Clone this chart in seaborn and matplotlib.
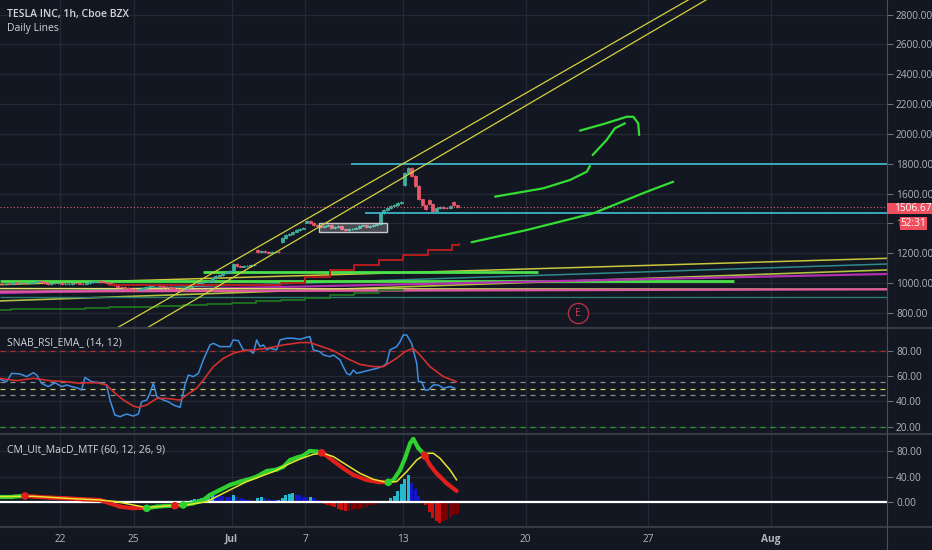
import numpy as np
import pandas as pd
import matplotlib
matplotlib.use('Agg')
import matplotlib.pyplot as plt
import seaborn as sns
from matplotlib.collections import LineCollection
from matplotlib.patches import Rectangle
from matplotlib.lines import Line2D

# ---------------- data ----------------
title_main = 'TESLA INC, 1h, Cboe BZX'
title_sub = 'Daily Lines'
title_rsi = 'SNAB_RSI_EMA_ (14, 12)'
title_macd = 'CM_Ult_MacD_MTF (60, 12, 26, 9)'

# x axis = trading-day index (0 = Jun 22)
date_labels = ['22', '25', 'Jul', '7', '13', '20', '27', 'Aug']
date_label_day = [0, 3, 7, 10, 14, 19, 24, 29]

price_ticks = [800, 1000, 1200, 1400, 1600, 1800, 2000, 2200, 2400, 2600, 2800]
hidden_tick = 1400          # its label is covered by the countdown box
rsi_ticks = [20, 40, 60, 80]
macd_ticks = [0, 40, 80]

candle_days = list(range(-3, 17))
day_opens = [995, 991, 1003, 1000, 994, 1001, 960, 985, 959, 1009,
             1083, 1221, 1276, 1405, 1389, 1365, 1396, 1659, 1556, 1543]
day_closes = [
    [1000, 998, 995, 993, 990, 992, 991],
    [1003, 1000, 1002, 998, 1000, 1002, 1003],
    [1010, 1005, 998, 995, 999, 1000, 1000],
    [990, 993, 995, 998, 997, 996, 994],
    [998, 1005, 1010, 1012, 1005, 1003, 1001],
    [995, 985, 975, 970, 965, 962, 960],
    [955, 960, 968, 975, 980, 983, 985],
    [980, 975, 970, 965, 962, 960, 959],
    [965, 975, 985, 995, 1000, 1005, 1009],
    [1015, 1030, 1045, 1055, 1065, 1072, 1079],
    [1125, 1115, 1110, 1112, 1115, 1118, 1119],
    [1210, 1215, 1205, 1200, 1205, 1210, 1208],
    [1300, 1320, 1330, 1345, 1355, 1365, 1371],
    [1415, 1400, 1390, 1380, 1375, 1385, 1389],
    [1370, 1375, 1380, 1360, 1355, 1362, 1365],
    [1370, 1385, 1390, 1375, 1380, 1390, 1394],
    [1470, 1490, 1505, 1515, 1525, 1535, 1544],
    [1740, 1770, 1720, 1650, 1560, 1520, 1497],
    [1530, 1480, 1500, 1510, 1505, 1500, 1516],
    [1520, 1506.67],
]
last_price = 1506.67
countdown = '52:31'

# daily lines (start day, start price, end day, end price)
dl_x0 = [-2.45, -2.45, -2.45, 5.84, -2.45, -2.45, -2.45, -2.45, -2.45]
dl_y0 = [989, 933, 1015, 1071, 879, 932, 962, 942, 904]
dl_x1 = [33.76, 33.76, 27.51, 19.51, 33.76, 33.76, 33.76, 33.76, 33.76]
dl_y1 = [1165, 1127, 1015, 1071, 1087, 1060, 957, 957, 904]

green_step_days = [-3, -2, -1, 0, 1, 2, 3, 4, 5, 6, 7, 8, 9, 10, 11, 12, 13, 14]
green_step_vals = [820, 822, 825, 828, 832, 836, 840, 846, 852, 858, 866, 876, 888, 902, 918, 935, 950, 950]

red_step_days = [2, 9, 10, 11, 12, 13, 14, 15, 16, 16.3]
red_step_vals = [985, 998, 1040, 1088, 1122, 1156, 1189, 1222, 1254, 1262]

channel_upper = [(2.0, 667), (26.0, 2933)]
channel_lower = [(3.0, 645), (27.0, 2960)]

cyan_levels = [1795, 1467]
cyan_start = [11.88, 12.45]

box_days = (10.57, 13.35)
box_prices = (1342, 1400)

earnings_day, earnings_price = 21.14, 798

green_strokes = [
    [(16.80, 1273), (19.05, 1355), (21.77, 1467), (23.95, 1612), (25.03, 1679)],
    [(17.76, 1579), (19.73, 1635), (20.82, 1691), (21.50, 1746), (21.63, 1785)],
    [(21.74, 1858), (22.31, 1959), (22.65, 2038), (23.06, 2071)],
    [(21.22, 2022), (22.18, 2066), (23.13, 2115), (23.40, 2115), (23.60, 2071), (23.64, 1993)],
]

rsi_points = [(-2.45,57.4),(-2.18,55.5),(-1.97,62.1),(-1.63,61.6),(-1.36,59.5),(-1.09,62.6),(-0.95,60.8),
    (-0.75,54.2),(-0.48,51.6),(-0.20,54.7),(0.07,51.6),(0.27,52.9),(0.48,51.6),(0.75,50.3),(0.88,48.9),
    (1.02,58.9),(1.29,55.5),(1.63,54.7),(1.90,52.9),(2.04,41.0),(2.24,29.2),(2.45,27.9),(2.72,30.0),
    (2.99,28.4),(3.20,30.0),(3.33,39.7),(3.54,41.0),(3.67,46.3),(3.81,54.2),(3.95,43.7),(4.22,41.0),
    (4.42,39.7),(4.63,37.1),(4.90,35.2),(5.10,52.9),(5.24,60.8),(5.44,59.5),(5.65,62.1),(5.85,72.7),
    (6.12,84.5),(6.26,85.8),(6.53,83.2),(6.94,83.2),(7.07,88.5),(7.28,87.9),(7.48,80.6),(7.76,80.0),
    (7.89,77.9),(8.03,88.5),(8.16,83.2),(8.30,84.5),(8.44,80.6),(8.57,81.9),(8.84,80.6),(8.98,88.5),
    (9.25,89.8),(9.52,89.8),(9.80,89.0),(10.07,90.6),(10.20,91.1),(10.34,80.6),(10.61,79.2),(10.75,76.6),
    (11.02,75.3),(11.16,76.6),(11.43,72.7),(11.56,67.4),(11.70,62.1),(11.84,60.8),(11.97,64.7),(12.11,62.1),
    (12.38,63.4),(12.65,64.7),(12.93,66.0),(13.20,67.9),(13.33,70.0),(13.47,80.6),(13.74,83.2),(13.88,87.1),
    (14.01,92.4),(14.15,92.4),(14.35,85.8),(14.56,70.0),(14.63,55.5),(14.76,55.5),(14.90,48.9),(15.03,48.9),
    (15.24,52.9),(15.44,52.9),(15.65,50.3),(15.92,51.6),(16.12,50.3)]
ema_points = [(-2.45,58.2),(-1.77,56.3),(-1.09,58.2),(-0.41,56.3),(0.27,55.5),(0.82,54.2),(1.09,54.7),
    (1.50,54.7),(1.90,52.9),(2.18,47.6),(2.59,41.0),(2.99,36.3),(3.20,35.2),(3.54,37.1),(3.95,42.3),
    (4.35,42.3),(4.90,41.0),(5.17,45.0),(5.58,50.3),(5.85,56.8),(6.26,67.4),(6.67,74.0),(7.07,77.9),
    (7.48,80.0),(7.89,80.6),(8.44,81.9),(9.12,84.5),(9.80,86.4),(10.20,86.4),(10.61,83.7),(11.16,80.0),
    (11.70,74.0),(12.24,69.2),(12.79,67.4),(13.20,67.4),(13.74,74.0),(14.08,79.2),(14.42,81.9),(14.69,76.6),
    (15.10,67.4),(15.65,59.5),(16.19,55.5)]
rsi_levels = [80, 55, 50, 45, 20]

macd_points = [(-2.45,8.9),(-1.90,8.9),(-1.43,9.9),(-1.09,8.9),(-0.41,7.3),(0.27,6.2),(0.95,4.7),(1.63,3.6),
    (2.04,-1.6),(2.45,-6.8),(2.99,-9.4),(3.54,-9.4),(3.95,-6.8),(4.35,-5.7),(4.76,-5.2),(5.03,-4.2),
    (5.44,-1.6),(5.85,3.6),(6.12,11.5),(6.53,19.3),(6.94,27.1),(7.35,32.3),(7.75,36.5),(8.03,40.1),
    (8.44,48.9),(8.84,51.0),(9.12,55.7),(9.39,66.1),(9.66,69.8),(9.93,72.9),(10.20,80.2),(10.48,79.2),
    (10.75,76.6),(11.16,64.6),(11.56,53.1),(11.97,42.7),(12.52,34.9),(13.06,31.2),(13.40,31.2),(13.61,34.9),
    (13.88,50.5),(14.08,68.7),(14.29,92.2),(14.42,99.0),(14.63,84.4),(14.83,76.6),(15.10,58.3),(15.37,45.3),
    (15.78,29.7),(16.19,17.7)]
signal_points = [(-2.45,8.9),(-1.09,9.4),(0.27,6.2),(1.63,3.6),(2.31,1.0),(2.99,-4.2),(3.54,-8.3),(4.35,-5.7),
    (5.17,-4.2),(5.99,1.0),(6.53,11.5),(7.07,21.9),(7.62,32.3),(8.16,40.1),(8.71,47.9),(9.25,58.3),
    (9.80,67.7),(10.34,75.0),(10.75,76.6),(11.16,71.3),(11.70,58.3),(12.24,45.3),(12.79,35.9),(13.33,31.2),
    (13.74,32.3),(14.15,47.9),(14.56,66.1),(14.97,76.6),(15.24,76.6),(15.51,68.7),(15.92,50.5),(16.19,34.9)]
cross_days = [-1.43, 3.54, 4.69, 5.03, 10.68, 13.40, 14.90]
cross_up = [False, True, False, True, False, True, False]

hist_days = list(range(3, 17))
hist_vals = [
    [-1, -1.5, -1, -0.5, 0.5, 1, 1],
    [1.5, 1, 0.5, 0.2, -0.3, -0.5, 0.5],
    [1.5, 2.5, 3.5, 4.5, 5.5, 6.5, 8],
    [11, 13, 12, 11, 10, 9, 8],
    [12, 9, 7, 5, 4, 3, 2],
    [6, 8, 7, 5, 4, 3, 3],
    [6, 11, 13, 14, 12, 11, 9],
    [8, 9, 6, 4, 1, -2, -4],
    [-6, -8, -10, -12, -13, -13, -12],
    [-11, -10, -9, -7, -5, -4, -2],
    [-1.5, -1, 2, 6, 10, 18, 28],
    [36, 42, 30, 20, 10, 3, -5],
    [-15, -25, -30, -32, -30, -27, -24],
    [-20, -18],
]

# ---------------- style ----------------
BARS_PER_DAY = 7
BG = '#131722'
GRID = '#252935'
TXT = '#d1d4dc'
AX_TXT = '#b2b5be'
UP, DN = '#3fae9c', '#e8566a'
dl_colors = ['#c9c83c', '#2e8b8b', '#4ce04c', '#4ce04c', '#b0c040', '#b030b0', '#e0e070', '#e05aa0', '#2a7a70']
dl_widths = [1.1, 1.1, 2.0, 2.0, 1.2, 1.6, 1.1, 1.6, 1.0]
rsi_level_colors = ['#b52a2a', '#8a8e99', '#c8c864', '#8a8e99', '#2e9e2e']

sns.set_theme(style='dark', rc={'axes.facecolor': BG, 'figure.facecolor': BG,
                                'savefig.facecolor': BG, 'grid.color': GRID})
plt.rcParams['font.family'] = ['Open Sans', 'DejaVu Sans']

W, H = 932, 550
PLOT_R = 887
fig = plt.figure(figsize=(W / 100, H / 100), dpi=100)


def pane(top, bottom, ylim, ticks):
    ax = fig.add_axes([0, 1 - bottom / H, PLOT_R / W, (bottom - top) / H])
    ax.set_facecolor(BG)
    for s in ax.spines.values():
        s.set_visible(False)
    ax.set_xlim(-2.449, 33.755)
    ax.set_ylim(*ylim)
    ax.set_xticks(date_label_day)
    ax.set_yticks(ticks)
    ax.set_yticklabels(['1' if v == hidden_tick and ax_is_price[0] else f'{v:.2f}' for v in ticks])
    ax.grid(True, color=GRID, lw=0.9)
    ax.set_axisbelow(True)
    ax.yaxis.tick_right()
    ax.tick_params(axis='y', direction='out', length=4, width=0.8, color='#6b6e78',
                   labelsize=7.3, labelcolor=AX_TXT, pad=2.5)
    ax.tick_params(axis='x', length=0, labelbottom=False)
    ax.set_xlabel('')
    ax.set_ylabel('')
    return ax


ax_is_price = [True]
ax1 = pane(0, 328, (697.4, 2898.6), price_ticks)
ax_is_price[0] = False
ax2 = pane(328, 434, (14.2, 97.9), rsi_ticks)
ax3 = pane(434, 527, (-38.6, 106.7), macd_ticks)

# ---------- main pane ----------
for x0, y0, x1, y1, c, w in zip(dl_x0, dl_y0, dl_x1, dl_y1, dl_colors, dl_widths):
    ax1.plot([x0, x1], [y0, y1], color=c, lw=w, solid_capstyle='butt', zorder=2)
ax1.plot(green_step_days, green_step_vals, drawstyle='steps-post', color='#1f7a1f', lw=1.2, zorder=2)

xs, o, c = [], [], []
for d, op, cl in zip(candle_days, day_opens, day_closes):
    prev = op
    for i, v in enumerate(cl):
        xs.append(d + (i + 0.5) / BARS_PER_DAY)
        o.append(prev)
        c.append(v)
        prev = v
xs, o, c = np.array(xs), np.array(o), np.array(c)
cols = np.where(c >= o, UP, DN)
lo, hi = np.minimum(o, c), np.maximum(o, c)
ax1.vlines(xs, lo - 6, hi + 6, colors=cols, lw=0.7, zorder=3)
ax1.bar(xs, hi - lo, bottom=lo, width=0.115, color=cols, edgecolor=cols, lw=0.6, zorder=3)

ax1.add_patch(Rectangle((box_days[0], box_prices[0]), box_days[1] - box_days[0],
                        box_prices[1] - box_prices[0], facecolor=(1, 1, 1, 0.22),
                        edgecolor='#c8c8cc', lw=1.0, zorder=4))

ax1.plot(red_step_days, red_step_vals, drawstyle='steps-post', color='#b71c1c', lw=1.4, zorder=4)

for lvl, st in zip(cyan_levels, cyan_start):
    ax1.hlines(lvl, st, 33.76, color='#3ab4c4', lw=1.3, zorder=4)
ax1.axhline(last_price, color='#e0607a', ls=(0, (1, 2)), lw=0.8, zorder=4)

for (a, b), (cc, dd) in [channel_upper, channel_lower]:
    ax1.plot([a, cc], [b, dd], color='#d4d23c', lw=0.9, zorder=5)

for stroke in green_strokes:
    df = pd.DataFrame(stroke, columns=['day', 'price'])
    sns.lineplot(data=df, x='day', y='price', ax=ax1, color='#33dd33', lw=1.6,
                 estimator=None, sort=False, zorder=6)

ax1.plot([earnings_day], [earnings_price], 'o', ms=14.5, mfc=BG, mec='#b03048', mew=1.0, zorder=6)
ax1.text(earnings_day, earnings_price, 'E', color='#c04058', fontsize=7, ha='center', va='center', zorder=7)

# ---------- RSI pane ----------
for lvl, lc in zip(rsi_levels, rsi_level_colors):
    ax2.axhline(lvl, color=lc, ls=(0, (4, 4)), lw=0.9, zorder=2)
rsi_df = pd.DataFrame(rsi_points, columns=['day', 'rsi'])
ema_df = pd.DataFrame(ema_points, columns=['day', 'ema'])
sns.lineplot(data=rsi_df, x='day', y='rsi', ax=ax2, color='#3d8fe0', lw=1.1, estimator=None, zorder=3)
sns.lineplot(data=ema_df, x='day', y='ema', ax=ax2, color='#d32f2f', lw=1.2, estimator=None, zorder=4)

# ---------- MACD pane ----------
hx, hv = [], []
for d, vals in zip(hist_days, hist_vals):
    for i, v in enumerate(vals):
        hx.append(d + (i + 0.5) / BARS_PER_DAY)
        hv.append(v)
hcols = []
for i, v in enumerate(hv):
    prev = hv[i - 1] if i > 0 else 0
    if v >= 0:
        hcols.append('#26b8cc' if v >= prev else '#1414c8')
    else:
        hcols.append('#cc1010' if v < prev else '#7a0000')
ax3.bar(hx, hv, width=0.13, color=hcols, lw=0, zorder=2)
ax3.axhline(0, color='white', lw=1.6, zorder=3)

mx = np.array([p[0] for p in macd_points])
my = np.array([p[1] for p in macd_points])


def is_up(x):
    state = not cross_up[0]
    for cd, up in zip(cross_days, cross_up):
        if x >= cd:
            state = up
    return state


segs, scol = [], []
for i in range(len(mx) - 1):
    segs.append([(mx[i], my[i]), (mx[i + 1], my[i + 1])])
    scol.append('#2ed12e' if is_up((mx[i] + mx[i + 1]) / 2) else '#e0201a')
ax3.add_collection(LineCollection(segs, colors=scol, linewidths=3.0, capstyle='round', zorder=4))
sig_df = pd.DataFrame(signal_points, columns=['day', 'signal'])
sns.lineplot(data=sig_df, x='day', y='signal', ax=ax3, color='#e6e62e', lw=1.1, estimator=None, zorder=5)
cy = np.interp(cross_days, mx, my)
ax3.scatter(cross_days, cy, s=30, c=['#2ed12e' if u else '#e0201a' for u in cross_up], zorder=6, lw=0)

for ax in (ax1, ax2, ax3):
    ax.set_xlabel('')
    ax.set_ylabel('')
    ax.set_xlim(-2.449, 33.755)

ax3.tick_params(axis='x', labelbottom=True, pad=5, labelsize=7.3, labelcolor=AX_TXT)
ax3.set_xticklabels(date_labels)
for lab in ax3.get_xticklabels():
    if lab.get_text() in ('Jul', 'Aug'):
        lab.set_fontweight('bold')

# ---------- frame ----------
for y in (328, 434, 527):
    fig.add_artist(Line2D([0, 1], [1 - y / H] * 2, color='#363a45', lw=1.6))
fig.add_artist(Line2D([PLOT_R / W] * 2, [0, 1], color='#4a4e59', lw=0.8))

fig.text(7 / W, 1 - 15 / H, title_main, color=TXT, fontsize=7.5, fontweight='semibold', va='center')
fig.text(7 / W, 1 - 28 / H, title_sub, color=TXT, fontsize=7.5, va='center')
fig.text(7 / W, 1 - 343 / H, title_rsi, color=TXT, fontsize=7.5, va='center')
fig.text(7 / W, 1 - 450 / H, title_macd, color=TXT, fontsize=7.5, va='center')

fig.add_artist(Rectangle((PLOT_R / W, 1 - 214 / H), 45 / W, 11.5 / H, transform=fig.transFigure,
                         facecolor='#ef4f5e', edgecolor='none', zorder=10))
fig.text(894 / W, 1 - 208.2 / H, f'{last_price:.2f}', color='white', fontsize=7.3, va='center', zorder=11)
fig.add_artist(Rectangle((900 / W, 1 - 229.5 / H), 27 / W, 12 / H, transform=fig.transFigure,
                         facecolor='#ef4f5e', edgecolor='none', zorder=10))
fig.text(913.5 / W, 1 - 223.5 / H, countdown, color='white', fontsize=7.3, va='center', ha='center', zorder=11)

fig.savefig('out.png', dpi=100, facecolor=BG)
